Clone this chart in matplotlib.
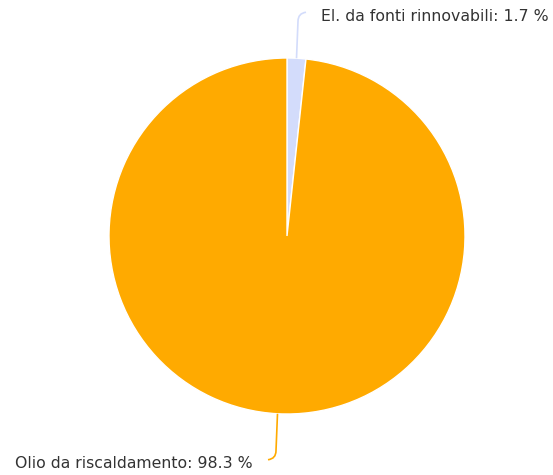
import numpy as np
import matplotlib
matplotlib.use("Agg")
import matplotlib.pyplot as plt
from matplotlib.path import Path
from matplotlib.patches import PathPatch

labels = ["El. da fonti rinnovabili", "Olio da riscaldamento"]
values = [1.7, 98.3]
colors = ["#d3dcfb", "#ffaa00"]

W, H = 553, 475
fig = plt.figure(figsize=(W / 100, H / 100), dpi=100)
ax = fig.add_axes([0, 0, 1, 1])

# pie geometry in pixels (y measured from bottom)
cx, cy, r = 287, H - 236, 178
ax.pie(values, colors=colors, startangle=90, counterclock=False,
       center=(cx, cy), radius=r, frame=True,
       wedgeprops=dict(edgecolor="white", linewidth=1.0))
ax.set_xlim(0, W)
ax.set_ylim(0, H)
ax.axis("off")

# connectors + labels
total = sum(values)
start = 0.0
for lab, v, col in zip(labels, values, colors):
    mid = np.radians((start + v / 2) / total * 360)
    start += v
    x0 = cx + r * np.sin(mid)
    y0 = cy + r * np.cos(mid)
    up = np.cos(mid) > 0
    s = 1 if up else -1
    x1, y1 = x0 + 1.5 * s, y0 + 42 * s
    x2, y2 = x1 + 8 * s, y1 + 4 * s
    path = Path([(x0, y0), (x1, y1 - 5 * s), (x1, y1 + 3 * s), (x2, y2)],
                [Path.MOVETO, Path.LINETO, Path.CURVE3, Path.CURVE3])
    ax.add_patch(PathPatch(path, fill=False, edgecolor=col, linewidth=1.2))
    txt = f"{lab}: {v} %"
    ax.text(x2 + 15 * s, y2 - 4, txt, ha="left" if up else "right",
            va="center", fontsize=11.3, color="#333333",
            family="DejaVu Sans")

fig.savefig("out.png", dpi=100)
